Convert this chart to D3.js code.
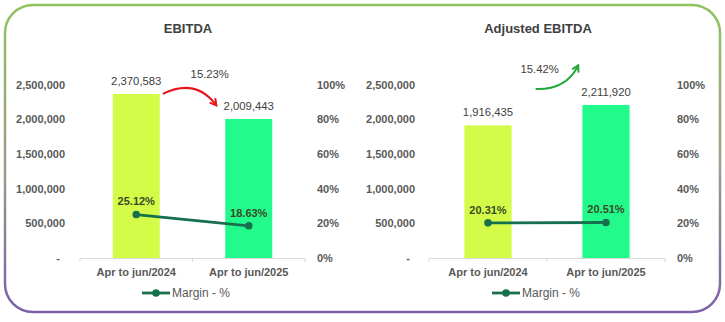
<!DOCTYPE html>
<html>
<head>
<meta charset="utf-8">
<script src="https://cdn.jsdelivr.net/npm/d3@7"></script>
<style>
  body { margin: 0; background: #fff; }
  text { font-family: "Liberation Sans", Arial, sans-serif; }
</style>
</head>
<body>
<div id="chart"></div>
<script>
// data
const categories = ['Apr to jun/2024', 'Apr to jun/2025'];
const ebitdaValues = [2370583, 2009443];
const ebitdaMargins = [25.12, 18.63];
const ebitdaChange = '15.23%';
const adjustedValues = [1916435, 2211920];
const adjustedMargins = [20.31, 20.51];
const adjustedChange = '15.42%';
const valueTicks = [0, 500000, 1000000, 1500000, 2000000, 2500000];
const percentTicks = [0, 20, 40, 60, 80, 100];

const barColors = ['#d4fb47', '#22fb8c'];
const lineColor = '#17704d';
const textColor = '#595959';

const width = 725;
const height = 322;

const svg = d3.select('#chart').append('svg')
  .attr('width', width)
  .attr('height', height);

// rounded frame with green -> purple border
const grad = svg.append('defs').append('linearGradient')
  .attr('id', 'frameGrad')
  .attr('gradientUnits', 'userSpaceOnUse')
  .attr('x1', 0).attr('y1', 5).attr('x2', 0).attr('y2', 312);
grad.append('stop').attr('offset', '0%').attr('stop-color', '#8fc35c');
grad.append('stop').attr('offset', '55%').attr('stop-color', '#9a9a8a');
grad.append('stop').attr('offset', '100%').attr('stop-color', '#7d5ea8');

svg.append('rect')
  .attr('x', 5).attr('y', 5)
  .attr('width', 715).attr('height', 307)
  .attr('rx', 28)
  .attr('fill', 'none')
  .attr('stroke', 'url(#frameGrad)')
  .attr('stroke-width', 2.5);

const defs = svg.select('defs');
[['arrowRed', '#e8141c'], ['arrowGreen', '#22a83a']].forEach(([id, c]) => {
  defs.append('marker')
    .attr('id', id)
    .attr('viewBox', '0 0 10 10')
    .attr('refX', 6).attr('refY', 5)
    .attr('markerWidth', 4.5).attr('markerHeight', 4.5)
    .attr('orient', 'auto')
    .append('path')
    .attr('d', 'M1,1 L8,5 L1,9')
    .attr('fill', 'none')
    .attr('stroke', c)
    .attr('stroke-width', 2.2);
});

const fmt = d3.format(',');

function drawChart(cfg) {
  const g = svg.append('g');

  const x = d3.scaleBand()
    .domain(categories)
    .range([cfg.x0, cfg.x1])
    .paddingInner(cfg.pad)
    .paddingOuter(cfg.pad / 2);
  const y = d3.scaleLinear().domain([0, 2500000]).range([258, 85]);
  const yPct = d3.scaleLinear().domain([0, 100]).range([258, 85]);
  const cx = c => x(c) + x.bandwidth() / 2;

  // title
  g.append('text')
    .attr('x', cfg.titleX).attr('y', 28)
    .attr('dy', '.35em')
    .attr('text-anchor', 'middle')
    .attr('font-size', 13).attr('font-weight', 'bold')
    .attr('fill', '#404040')
    .text(cfg.title);

  // left axis labels (accounting style dash for zero)
  g.selectAll('.ltick')
    .data(valueTicks)
    .enter().append('text')
    .attr('x', d => (d === 0 ? cfg.leftX - 5 : cfg.leftX))
    .attr('y', d => y(d))
    .attr('dy', '.35em')
    .attr('text-anchor', 'end')
    .attr('font-size', 11).attr('font-weight', 'bold')
    .attr('fill', textColor)
    .text(d => (d === 0 ? '-' : fmt(d)));

  // right axis labels
  g.selectAll('.rtick')
    .data(percentTicks)
    .enter().append('text')
    .attr('x', cfg.rightX)
    .attr('y', d => yPct(d))
    .attr('dy', '.35em')
    .attr('font-size', 11).attr('font-weight', 'bold')
    .attr('fill', textColor)
    .text(d => `${d}%`);

  // bars
  g.selectAll('.bar')
    .data(cfg.values)
    .enter().append('rect')
    .attr('x', (d, i) => x(categories[i]))
    .attr('y', d => y(d))
    .attr('width', x.bandwidth())
    .attr('height', d => y(0) - y(d))
    .attr('fill', (d, i) => barColors[i]);

  // category axis
  const axis = g.append('g')
    .attr('transform', 'translate(0,258)')
    .call(d3.axisBottom(x).tickSize(0).tickPadding(10));
  axis.select('.domain').attr('stroke', '#d9d9d9');
  axis.selectAll('text')
    .attr('font-family', '"Liberation Sans", Arial, sans-serif')
    .attr('font-size', 11).attr('font-weight', 'bold')
    .attr('fill', textColor);
  const bounds = [cfg.x0, (cfg.x0 + cfg.x1) / 2, cfg.x1];
  g.selectAll('.xt')
    .data(bounds)
    .enter().append('line')
    .attr('x1', d => d).attr('x2', d => d)
    .attr('y1', 258).attr('y2', 262)
    .attr('stroke', '#d9d9d9');

  // value labels
  g.selectAll('.vlabel')
    .data(cfg.values)
    .enter().append('text')
    .attr('x', (d, i) => cx(categories[i]))
    .attr('y', d => y(d) - 13)
    .attr('dy', '.35em')
    .attr('text-anchor', 'middle')
    .attr('font-size', 11.3)
    .attr('fill', '#404040')
    .text(d => fmt(d));

  // margin line
  const line = d3.line()
    .x((d, i) => cx(categories[i]))
    .y(d => yPct(d));
  g.append('path')
    .datum(cfg.margins)
    .attr('d', line)
    .attr('fill', 'none')
    .attr('stroke', lineColor)
    .attr('stroke-width', 2.8);
  g.selectAll('.dot')
    .data(cfg.margins)
    .enter().append('circle')
    .attr('cx', (d, i) => cx(categories[i]))
    .attr('cy', d => yPct(d))
    .attr('r', 3.8)
    .attr('fill', lineColor);
  g.selectAll('.mlabel')
    .data(cfg.margins)
    .enter().append('text')
    .attr('x', (d, i) => cx(categories[i]))
    .attr('y', d => yPct(d) - 13)
    .attr('dy', '.35em')
    .attr('text-anchor', 'middle')
    .attr('font-size', 11).attr('font-weight', 'bold')
    .attr('fill', '#3a4a26')
    .text(d => `${d.toFixed(2)}%`);

  // change arrow
  const b0 = x(categories[0]) + x.bandwidth();
  const b1 = x(categories[1]);
  let path;
  let labelPos;
  if (cfg.up) {
    const sx = b0 + 24; const sy = y(cfg.values[1]) - 16;
    const ex = b1 - 5; const ey = y(cfg.values[1]) - 38;
    path = `M${sx},${sy} Q${ex - 12},${sy + 1} ${ex},${ey}`;
    labelPos = [sx + 4, ey + 2];
  } else {
    const sx = b0 + 3; const sy = y(cfg.values[0]);
    const ex = b1 - 10; const ey = y(cfg.values[1]) - 15;
    path = `M${sx},${sy} Q${sx + 32},${sy - 16} ${ex},${ey}`;
    labelPos = [sx + 47, sy - 20];
  }
  g.append('path')
    .attr('d', path)
    .attr('fill', 'none')
    .attr('stroke', cfg.up ? '#22a83a' : '#e8141c')
    .attr('stroke-width', 2)
    .attr('marker-end', `url(#${cfg.up ? 'arrowGreen' : 'arrowRed'})`);
  g.append('text')
    .attr('x', labelPos[0]).attr('y', labelPos[1])
    .attr('dy', '.35em')
    .attr('text-anchor', 'middle')
    .attr('font-size', 11.3)
    .attr('fill', '#404040')
    .text(cfg.change);

  // legend
  const lx = cfg.titleX - 46;
  const ly = 293;
  g.append('line')
    .attr('x1', lx).attr('x2', lx + 28)
    .attr('y1', ly).attr('y2', ly)
    .attr('stroke', lineColor)
    .attr('stroke-width', 2.8);
  g.append('circle')
    .attr('cx', lx + 14).attr('cy', ly)
    .attr('r', 3.8)
    .attr('fill', lineColor);
  g.append('text')
    .attr('x', lx + 30).attr('y', ly)
    .attr('dy', '.35em')
    .attr('font-size', 12)
    .attr('fill', textColor)
    .text('Margin - %');
}

drawChart({
  title: 'EBITDA',
  values: ebitdaValues,
  margins: ebitdaMargins,
  change: ebitdaChange,
  up: false,
  x0: 80, x1: 305, pad: 0.582,
  titleX: 188, leftX: 65, rightX: 317,
});

drawChart({
  title: 'Adjusted EBITDA',
  values: adjustedValues,
  margins: adjustedMargins,
  change: adjustedChange,
  up: true,
  x0: 429, x1: 665, pad: 0.6,
  titleX: 538, leftX: 415, rightX: 677,
});
</script>
</body>
</html>
